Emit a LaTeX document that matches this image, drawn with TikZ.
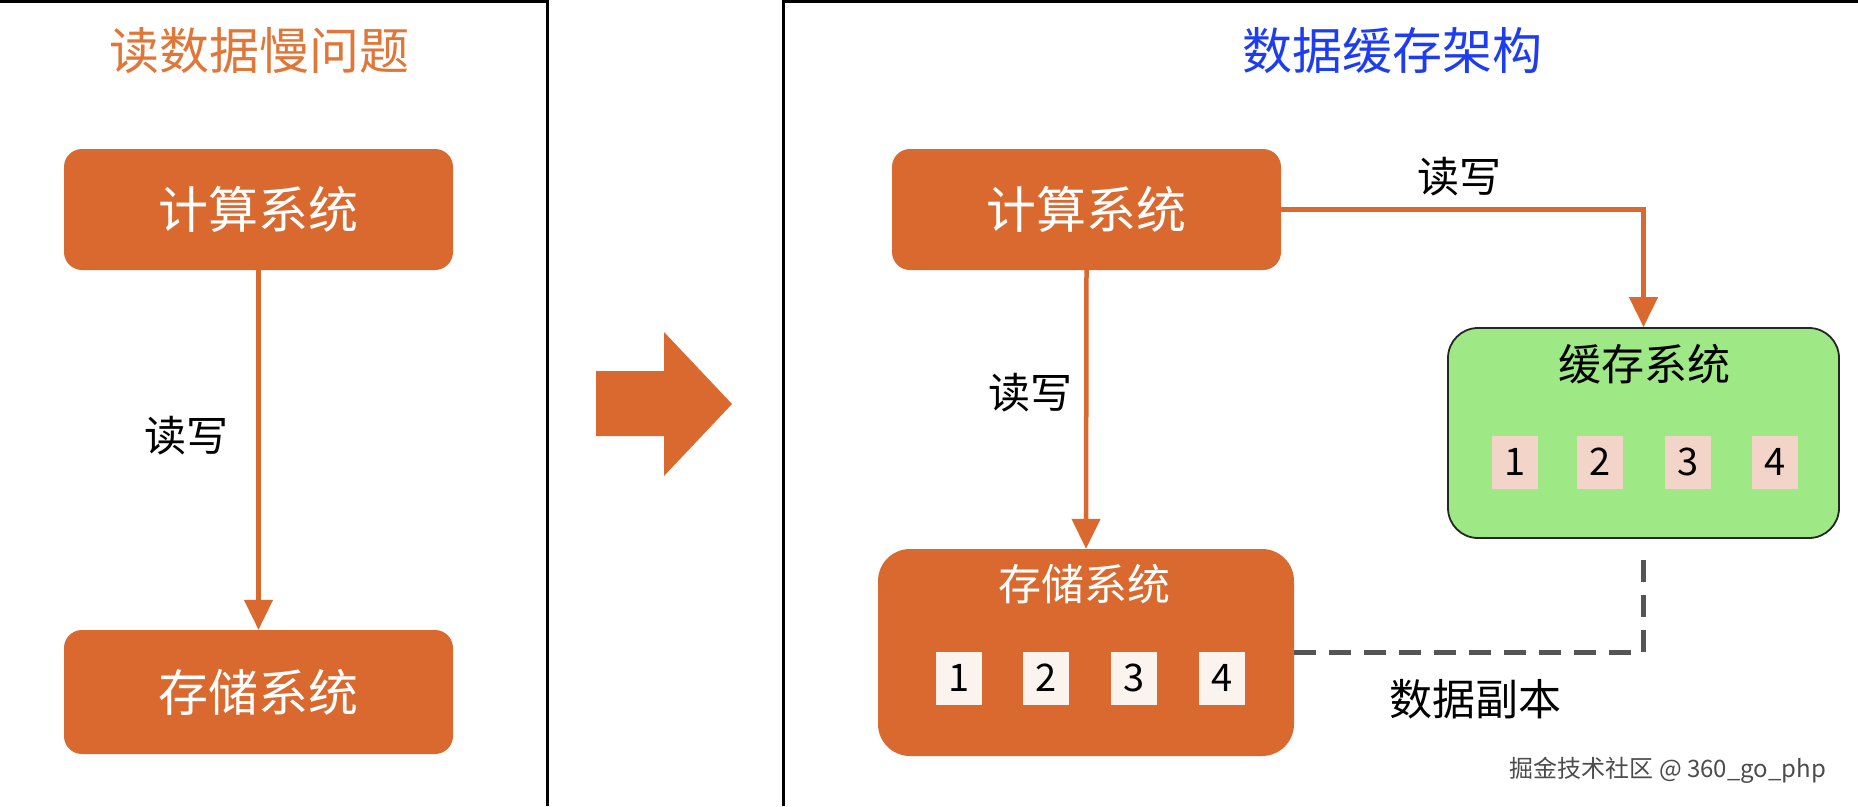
\documentclass[tikz,border=0pt]{standalone}
\usepackage{fontspec}
\setmainfont{Noto Sans CJK SC}
\usetikzlibrary{arrows.meta}
\definecolor{org}{HTML}{D9692F}
\definecolor{orgtitle}{HTML}{E07638}
\definecolor{bluet}{HTML}{1E3CF0}
\definecolor{cachegreen}{HTML}{9EE886}
\definecolor{pinkcell}{HTML}{F2D4C9}
\definecolor{whitecell}{HTML}{FBF3EE}
\definecolor{dashgray}{HTML}{555555}
\tikzset{
  obox/.style={fill=org, draw=none, rounded corners=18pt, text=white, font=\fontsize{50}{50}\selectfont, inner sep=0pt},
  oarrow/.style={draw=org, line width=4.5pt, -{Triangle[width=28pt,length=30pt]}},
  lbl/.style={font=\fontsize{42}{42}\selectfont, text=black, inner sep=0pt},
  cell/.style={minimum width=46pt, minimum height=53pt, inner sep=0pt, font=\fontsize{38}{38}\selectfont, text=black},
  panel/.style={draw=black, line width=3pt},
}
\begin{document}
\begin{tikzpicture}[x=1pt,y=-1pt]
\useasboundingbox (0,0) rectangle (1858,806);
\fill[white] (0,0) rectangle (1858,806);
% panel borders
\draw[panel] (0,1.5) -- (547,1.5) -- (547,806);
\draw[panel] (783,806) -- (783,1.5) -- (1858,1.5);
% titles
\node[font=\fontsize{50}{50}\selectfont, text=orgtitle, inner sep=0pt] (t1) at (259,51) {读数据慢问题};
\node[font=\fontsize{50}{50}\selectfont, text=bluet, inner sep=0pt] (t2) at (1392,51) {数据缓存架构};
% left panel
\node[obox, minimum width=389pt, minimum height=121pt] (c1) at (258.5,209.5) {计算系统};
\node[obox, minimum width=389pt, minimum height=124pt] (s1) at (258.5,692) {存储系统};
\draw[oarrow] (c1.south) -- (s1.north);
\node[lbl] (l1) at (186,436) {读写};
% big arrow
\fill[org] (596,371) -- (664,371) -- (664,332) -- (732,404) -- (664,476) -- (664,436) -- (596,436) -- cycle;
% right panel
\node[obox, minimum width=389pt, minimum height=121pt] (c2) at (1086.5,209.5) {计算系统};
\node[fill=org, draw=none, rounded corners=32pt, minimum width=416pt, minimum height=207pt, inner sep=0pt] (s2) at (1086,652.5) {};
\node[font=\fontsize{43}{43}\selectfont, text=white, inner sep=0pt] (s2t) at (1084,584) {存储系统};
\node[cell, fill=whitecell] (w1) at (959,678) {1};
\node[cell, fill=whitecell] (w2) at (1046,678) {2};
\node[cell, fill=whitecell] (w3) at (1134,678) {3};
\node[cell, fill=whitecell] (w4) at (1222,678) {4};
\node[fill=cachegreen, draw=black!85, line width=1.8pt, rounded corners=30pt, minimum width=391pt, minimum height=210pt, inner sep=0pt] (cache) at (1643.5,433) {};
\node[font=\fontsize{43}{43}\selectfont, text=black, inner sep=0pt] (cachet) at (1644,364) {缓存系统};
\node[cell, fill=pinkcell] (p1) at (1515,462) {1};
\node[cell, fill=pinkcell] (p2) at (1600,462) {2};
\node[cell, fill=pinkcell] (p3) at (1688,462) {3};
\node[cell, fill=pinkcell] (p4) at (1775,462) {4};
\draw[oarrow] (c2.east) -| (cache.north);
\draw[oarrow] (c2.south) -- (s2.north);
\node[lbl] (l2) at (1459,177) {读写};
\node[lbl] (l3) at (1030,393) {读写};
\coordinate (dend) at ([yshift=-14pt]cache.south);
\draw[dashgray, line width=5pt, dash pattern=on 22pt off 13pt] (s2.east) -| (dend);
\node[lbl, font=\fontsize{43}{43}\selectfont] (l4) at (1475,699) {数据副本};
\node[font=\fontsize{24}{24}\selectfont, text=black!70, inner sep=0pt] (wm) at (1668,770) {掘金技术社区 @ 360\_go\_php};
\end{tikzpicture}
\end{document}
